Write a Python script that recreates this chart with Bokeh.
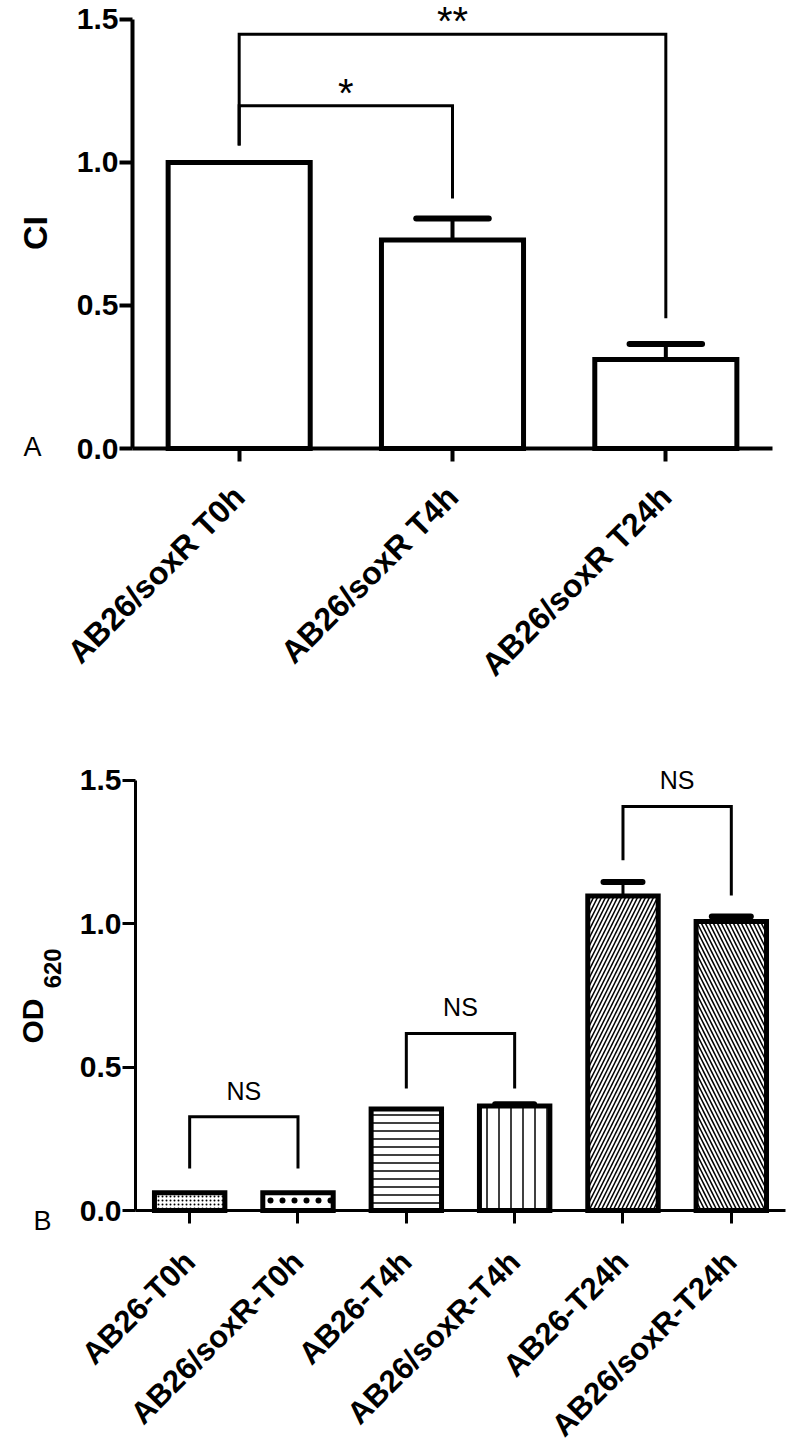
import numpy as np
from math import pi
from bokeh.plotting import figure
from bokeh.layouts import column
from bokeh.models import FixedTicker, Range1d, NumeralTickFormatter
from bokeh.embed import file_html
from bokeh.resources import INLINE
from bokeh.core.properties import value

# ---------------- Panel A data ----------------
a_categories = ["AB26/soxR T0h", "AB26/soxR T4h", "AB26/soxR T24h"]
a_values = [1.0, 0.729, 0.311]
a_errors = [0.0, 0.075, 0.054]
a_yticks = [0.0, 0.5, 1.0, 1.5]
a_ylabel = "CI"
a_panel = "A"
a_sig_pairs = [(0, 2), (0, 1)]
a_sig_heights = [1.448, 1.198]
a_sig_left_ends = [1.059, 1.059]
a_sig_right_ends = [0.455, 0.874]
a_sig_labels = ["**", "*"]

# ---------------- Panel B data ----------------
b_categories = ["AB26-T0h", "AB26/soxR-T0h", "AB26-T4h", "AB26/soxR-T4h",
                "AB26-T24h", "AB26/soxR-T24h"]
b_values = [0.062, 0.062, 0.354, 0.364, 1.096, 1.007]
b_errors = [0.0, 0.0, 0.0, 0.006, 0.049, 0.017]
b_yticks = [0.0, 0.5, 1.0, 1.5]
b_ylabel_main = "OD"
b_ylabel_sub = "620"
b_panel = "B"
b_sig_pairs = [(0, 1), (2, 3), (4, 5)]
b_sig_heights = [0.327, 0.617, 1.408]
b_sig_left_ends = [0.146, 0.425, 1.22]
b_sig_right_ends = [0.146, 0.425, 1.098]
b_sig_labels = ["NS", "NS", "NS"]

# ---------------- styles ----------------
FONT = "Liberation Sans"
b_hatch = ["dot", "dot", "horizontal_line", "vertical_line",
           "right_diagonal_line", "left_diagonal_line"]
b_hatch_scale = [4, 12, 8, 12, 8, 8]
b_hatch_weight = [1.5, 7, 1.5, 1.5, 1.5, 1.5]
W = 800


def style_axes(p, cats, yticks, axis_w, xstandoff, xsize):
    n = len(cats)
    p.xgrid.visible = False
    p.ygrid.visible = False
    p.outline_line_color = None
    p.xaxis.fixed_location = yticks[0]
    p.yaxis.fixed_location = -0.5
    p.xaxis.bounds = (-0.5, n - 0.5)
    p.xaxis.ticker = FixedTicker(ticks=list(range(n)))
    p.xaxis.major_label_overrides = {i: c for i, c in enumerate(cats)}
    p.xaxis.major_label_orientation = pi / 4
    p.xaxis.major_label_text_font = FONT
    p.xaxis.major_label_text_font_style = "bold"
    p.xaxis.major_label_text_font_size = xsize
    p.xaxis.major_label_text_color = "black"
    p.xaxis.major_label_standoff = xstandoff
    p.xaxis.major_tick_out = 13
    p.xaxis.major_tick_in = 0
    p.xaxis.minor_tick_out = 0
    p.xaxis.minor_tick_in = 0
    p.xaxis.axis_line_width = axis_w
    p.xaxis.major_tick_line_width = axis_w
    p.yaxis.ticker = FixedTicker(ticks=yticks)
    p.yaxis.formatter = NumeralTickFormatter(format="0.0")
    p.yaxis.bounds = (yticks[0], yticks[-1])
    p.yaxis.major_label_text_font = FONT
    p.yaxis.major_label_text_font_style = "bold"
    p.yaxis.major_label_text_font_size = "30px"
    p.yaxis.major_label_text_color = "black"
    p.yaxis.major_label_standoff = 1
    p.yaxis.major_tick_out = 13
    p.yaxis.major_tick_in = 0
    p.yaxis.minor_tick_out = 0
    p.yaxis.minor_tick_in = 0
    p.yaxis.axis_line_width = axis_w
    p.yaxis.major_tick_line_width = axis_w


def draw_errors(p, vals, errs, half, stem_w, cap_w):
    x = np.arange(len(vals))
    v = np.array(vals)
    e = np.array(errs)
    m = e > 0
    t = v + e
    p.segment(x0=x[m], y0=v[m], x1=x[m], y1=t[m], line_width=stem_w, line_color="black")
    p.segment(x0=x[m] - half, y0=t[m], x1=x[m] + half, y1=t[m], line_width=cap_w,
              line_color="black", line_cap="round")


def draw_brackets(p, pairs, heights, lefts, rights, labels, dy, size):
    xs = [[i, i, j, j] for (i, j) in pairs]
    ys = [[l, h, h, r] for h, l, r in zip(heights, lefts, rights)]
    p.multi_line(xs=xs, ys=ys, line_width=3, line_color="black", line_join="miter")
    p.text(x=[(i + j) / 2 for (i, j) in pairs], y=[h + dy for h in heights], text=labels,
           text_align="center", text_baseline="alphabetic", text_font=value(FONT),
           text_font_size=value(size), text_color="black")


def add_text(p, x, y, txt, size, style="normal", angle=0.0, align="left"):
    p.text(x=[x], y=[y], text=[txt], angle=angle, text_align=align,
           text_baseline="alphabetic", text_font=value(FONT), text_font_size=value(size),
           text_font_style=style, text_color="black")


# ---------------- Panel A ----------------
# frame covers the whole figure; axes are pinned with fixed_location
pa = figure(width=W, height=750, x_range=Range1d(-1.1188, 2.6313),
            y_range=Range1d(-1.0559, 1.5664), output_backend="svg", toolbar_location=None,
            min_border_left=0, min_border_right=0, min_border_top=0, min_border_bottom=0)
xa = np.arange(len(a_categories))
draw_errors(pa, a_values, a_errors, 0.17, 4, 6)
pa.vbar(x=xa, top=a_values, bottom=0, width=0.666, fill_color="white",
        line_color="black", line_width=5, line_join="miter")
draw_brackets(pa, a_sig_pairs, a_sig_heights, a_sig_left_ends, a_sig_right_ends,
              a_sig_labels, 0.045, "40px")
style_axes(pa, a_categories, a_yticks, 4, 30, "32px")
add_text(pa, -0.955, 0.7535, a_ylabel, "34px", "bold", pi / 2, "center")
add_text(pa, -1.011, 0.004, a_panel, "27px")

# ---------------- Panel B ----------------
pb = figure(width=W, height=693, x_range=Range1d(-1.7462, 5.6387),
            y_range=Range1d(-0.8118, 1.6028), output_backend="svg", toolbar_location=None,
            min_border_left=0, min_border_right=0, min_border_top=0, min_border_bottom=0)
xb = np.arange(len(b_categories))
draw_errors(pb, b_values, b_errors, 0.18, 3, 6)
pb.vbar(x=xb, top=b_values, bottom=0, width=0.65, fill_color="white",
        line_color="black", line_width=5, line_join="miter",
        hatch_pattern=b_hatch, hatch_scale=b_hatch_scale, hatch_weight=b_hatch_weight,
        hatch_color="black")
draw_brackets(pb, b_sig_pairs, b_sig_heights, b_sig_left_ends, b_sig_right_ends,
              b_sig_labels, 0.091, "25px")
style_axes(pb, b_categories, b_yticks, 3, 33, "31px")
add_text(pb, -1.451, 0.582, b_ylabel_main, "30px", "bold", pi / 2)
add_text(pb, -1.266, 0.774, b_ylabel_sub, "24px", "bold", pi / 2)
add_text(pb, -1.442, -0.038, b_panel, "27px")

layout = column(pa, pb)
open("out.html", "w").write(file_html(layout, INLINE))
